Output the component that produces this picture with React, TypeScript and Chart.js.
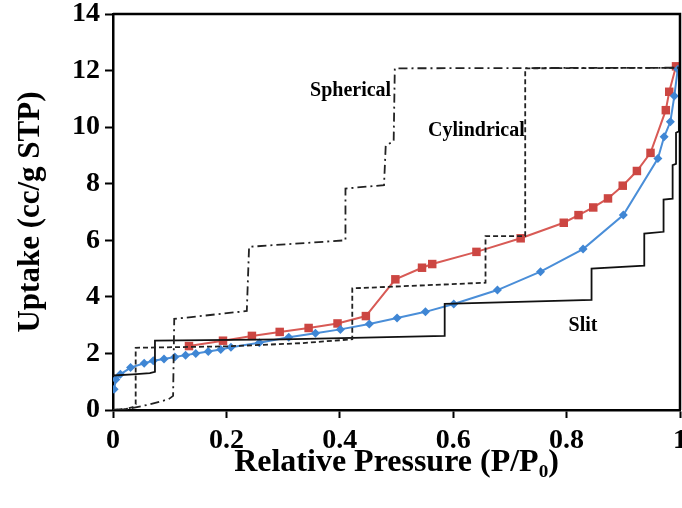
import React, { useEffect, useRef } from 'react';
import { Chart, registerables } from 'chart.js';
Chart.register(...registerables);

// Tick values
const xTickValues = [0, 0.2, 0.4, 0.6, 0.8, 1];
const yTickValues = [0, 2, 4, 6, 8, 10, 12, 14];

// Red (squares) series
const redX = [0.134, 0.194, 0.245, 0.294, 0.345, 0.396, 0.446, 0.498, 0.545, 0.563, 0.641, 0.719, 0.795, 0.821, 0.847, 0.873, 0.899, 0.924, 0.948, 0.975, 0.981, 0.993];
const redY = [2.26, 2.45, 2.62, 2.76, 2.9, 3.06, 3.32, 4.62, 5.03, 5.16, 5.59, 6.07, 6.62, 6.89, 7.16, 7.48, 7.93, 8.45, 9.09, 10.6, 11.25, 12.15];

// Blue (diamonds) series
const blueX = [0.002, 0.005, 0.013, 0.031, 0.055, 0.071, 0.09, 0.109, 0.128, 0.146, 0.168, 0.19, 0.208, 0.258, 0.31, 0.357, 0.401, 0.452, 0.501, 0.551, 0.601, 0.678, 0.754, 0.829, 0.9, 0.961, 0.972, 0.983, 0.99, 0.996];
const blueY = [0.73, 1.08, 1.26, 1.5, 1.65, 1.74, 1.8, 1.87, 1.94, 2.0, 2.07, 2.14, 2.22, 2.38, 2.57, 2.71, 2.85, 3.04, 3.25, 3.47, 3.75, 4.24, 4.89, 5.69, 6.89, 8.89, 9.66, 10.19, 11.1, 12.05];

// Slit (solid step)
const slitX = [0, 0.035, 0.065, 0.074, 0.074, 0.3, 0.585, 0.585, 0.844, 0.844, 0.937, 0.937, 0.971, 0.971, 0.987, 0.987, 0.993, 0.993, 0.998, 0.998];
const slitY = [1.22, 1.26, 1.3, 1.35, 2.45, 2.5, 2.62, 3.75, 3.89, 5.0, 5.1, 6.24, 6.3, 7.44, 7.47, 8.66, 8.7, 9.8, 9.85, 12.1];

// Cylindrical (dashed step)
const cylX = [0, 0.02, 0.035, 0.04, 0.04, 0.2, 0.33, 0.422, 0.422, 0.657, 0.657, 0.727, 0.727, 1.0];
const cylY = [0, 0.03, 0.1, 0.2, 2.2, 2.25, 2.36, 2.5, 4.3, 4.5, 6.15, 6.15, 12.08, 12.1];

// Spherical (dash-dot step)
const sphX = [0, 0.03, 0.065, 0.098, 0.106, 0.108, 0.236, 0.24, 0.41, 0.41, 0.478, 0.481, 0.495, 0.497, 1.0];
const sphY = [0, 0.05, 0.2, 0.38, 0.5, 3.22, 3.5, 5.77, 6.0, 7.83, 7.95, 9.35, 9.5, 12.08, 12.1];

// Annotation labels (text, data x, data y)
const labelTexts = ['Spherical', 'Cylindrical', 'Slit'];
const labelX = [0.419, 0.641, 0.829];
const labelY = [11.3, 9.86, 2.97];

const FONT = "'Liberation Serif', 'Times New Roman', serif";

const zip = (xs: number[], ys: number[]) => xs.map((x, i) => ({ x, y: ys[i] }));

const noPad = (s: any) => {
  s.paddingTop = 0;
  s.paddingBottom = 0;
  s.paddingLeft = 0;
  s.paddingRight = 0;
};

const framePlugin = {
  id: 'frameAndLabels',
  afterDatasetsDraw(chart: any) {
    const { ctx, chartArea } = chart;
    ctx.save();
    ctx.strokeStyle = '#000';
    ctx.lineWidth = 2.5;
    ctx.beginPath();
    ctx.moveTo(chartArea.left, chartArea.top);
    ctx.lineTo(chartArea.right, chartArea.top);
    ctx.lineTo(chartArea.right, chartArea.bottom);
    ctx.stroke();
    const xs = chart.scales.x;
    const ys = chart.scales.y;
    ctx.fillStyle = '#000';
    ctx.font = `bold 20px ${FONT}`;
    ctx.textAlign = 'center';
    ctx.textBaseline = 'middle';
    labelTexts.forEach((t, i) => {
      ctx.fillText(t, xs.getPixelForValue(labelX[i]), ys.getPixelForValue(labelY[i]));
    });
    ctx.restore();
  },
};

export default function App() {
  const ref = useRef<HTMLCanvasElement>(null);
  useEffect(() => {
    const tickFont = { family: FONT, size: 28, weight: 'bold' as const };
    const chart = new Chart(ref.current as HTMLCanvasElement, {
      type: 'scatter',
      data: {
        datasets: [
          {
            label: 'Spherical',
            data: zip(sphX, sphY),
            showLine: true,
            borderColor: '#222',
            borderWidth: 1.8,
            borderDash: [9, 4, 2, 4],
            pointRadius: 0,
          },
          {
            label: 'Cylindrical',
            data: zip(cylX, cylY),
            showLine: true,
            borderColor: '#222',
            borderWidth: 1.8,
            borderDash: [5, 3],
            pointRadius: 0,
          },
          {
            label: 'Slit',
            data: zip(slitX, slitY),
            showLine: true,
            borderColor: '#111',
            borderWidth: 1.8,
            pointRadius: 0,
          },
          {
            label: 'Blue',
            data: zip(blueX, blueY),
            showLine: true,
            borderColor: '#4a8ed8',
            backgroundColor: '#3f86d4',
            borderWidth: 2,
            pointStyle: 'rectRot',
            pointRadius: 4.5,
            pointBorderWidth: 0,
          },
          {
            label: 'Red',
            data: zip(redX, redY),
            showLine: true,
            borderColor: '#d85a55',
            backgroundColor: '#cc4642',
            borderWidth: 2,
            pointStyle: 'rect',
            pointRadius: 6,
            pointBorderWidth: 0,
          },
        ],
      },
      options: {
        responsive: false,
        animation: false,
        devicePixelRatio: 1,
        layout: { padding: { top: 14, right: 2, left: 0, bottom: 0 }, autoPadding: false } as any,
        plugins: { legend: { display: false }, tooltip: { enabled: false } },
        scales: {
          x: {
            type: 'linear',
            min: 0,
            max: 1,
            afterFit: (s: any) => { s.height = 98; noPad(s); },
            afterBuildTicks: (s: any) => { s.ticks = xTickValues.map((v) => ({ value: v })); },
            ticks: { font: tickFont, color: '#000', padding: 6, maxRotation: 0, callback: (v: any) => String(v) },
            grid: { drawOnChartArea: false, tickLength: 8, tickColor: '#000', tickWidth: 2 },
            border: { color: '#000', width: 2.5 },
            title: {
              display: true,
              text: 'Relative Pressure (P/P₀)',
              font: { family: FONT, size: 32, weight: 'bold' },
              color: '#000',
              padding: { top: 0, bottom: 26 },
            },
          },
          y: {
            type: 'linear',
            min: 0,
            max: 14,
            afterFit: (s: any) => { s.width = 113; noPad(s); },
            afterBuildTicks: (s: any) => { s.ticks = yTickValues.map((v) => ({ value: v })); },
            ticks: { font: tickFont, color: '#000', padding: 5, callback: (v: any) => String(v) },
            grid: { drawOnChartArea: false, tickLength: 8, tickColor: '#000', tickWidth: 2 },
            border: { color: '#000', width: 2.5 },
            title: {
              display: true,
              text: 'Uptake (cc/g STP)',
              font: { family: FONT, size: 31, weight: 'bold' },
              color: '#000',
              padding: { top: 12, bottom: 0 },
            },
          },
        },
      } as any,
      plugins: [framePlugin],
    });
    return () => chart.destroy();
  }, []);
  return (
    <div style={{ position: 'fixed', left: 0, top: 0, width: 682, height: 508, background: '#fff' }}>
      <canvas ref={ref} width={682} height={508} style={{ width: 682, height: 508, display: 'block' }} />
    </div>
  );
}
